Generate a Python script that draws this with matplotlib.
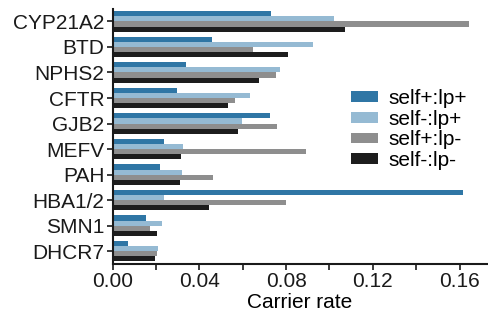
import numpy as np
import matplotlib
matplotlib.use("Agg")
import matplotlib.pyplot as plt
from matplotlib.ticker import MultipleLocator

plt.rcParams["font.family"] = ["Liberation Sans", "DejaVu Sans"]

genes = ["CYP21A2", "BTD", "NPHS2", "CFTR", "GJB2",
         "MEFV", "PAH", "HBA1/2", "SMN1", "DHCR7"]
series_names = ["self+:lp+", "self-:lp+", "self+:lp-", "self-:lp-"]
self_pos_lp_pos = [0.0731, 0.0458, 0.0338, 0.0297, 0.0727,
                   0.0237, 0.0218, 0.1617, 0.0154, 0.0071]
self_neg_lp_pos = [0.1022, 0.0925, 0.0773, 0.0634, 0.0597,
                   0.0325, 0.0320, 0.0237, 0.0228, 0.0209]
self_pos_lp_neg = [0.1645, 0.0648, 0.0754, 0.0565, 0.0759,
                   0.0893, 0.0463, 0.0800, 0.0172, 0.0205]
self_neg_lp_neg = [0.1072, 0.0809, 0.0676, 0.0532, 0.0578,
                   0.0316, 0.0311, 0.0444, 0.0205, 0.0196]
colors = ["#2f76a5", "#95bad3", "#8e8e8e", "#1d1d1d"]

series = [self_pos_lp_pos, self_neg_lp_pos, self_pos_lp_neg, self_neg_lp_neg]

fig = plt.figure(figsize=(4.89, 3.16), dpi=100)
ax = fig.add_axes([0.2305, 0.1646, 0.7655, 0.808])

y = np.arange(len(genes))
h = 0.2
for i, (vals, name, c) in enumerate(zip(series, series_names, colors)):
    ax.barh(y - 0.3 + i * h, vals, height=h, color=c, label=name)

ax.set_ylim(len(genes) - 0.5, -0.5)
ax.set_xlim(0, 0.1727)
ax.set_yticks(y)
ax.set_yticklabels(genes)
ax.xaxis.set_major_locator(MultipleLocator(0.04))
ax.xaxis.set_minor_locator(MultipleLocator(0.02))
ax.xaxis.set_major_formatter(matplotlib.ticker.FormatStrFormatter("%.2f"))
ax.tick_params(axis="both", which="both", direction="out", length=4,
               width=1.2, labelsize=15, pad=2, colors="#1a1a1a")
ax.set_xlabel("Carrier rate", fontsize=15, labelpad=1)

for s in ["top", "right"]:
    ax.spines[s].set_visible(False)
for s in ["left", "bottom"]:
    ax.spines[s].set_linewidth(1.5)
    ax.spines[s].set_color("#1a1a1a")

ax.legend(frameon=False, fontsize=15, loc="upper left",
          bbox_to_anchor=(0.637, 0.685), handlelength=1.3, handleheight=0.43,
          handletextpad=0.5, labelspacing=0.08, borderpad=0, borderaxespad=0)

plt.savefig("out.png", dpi=100)
